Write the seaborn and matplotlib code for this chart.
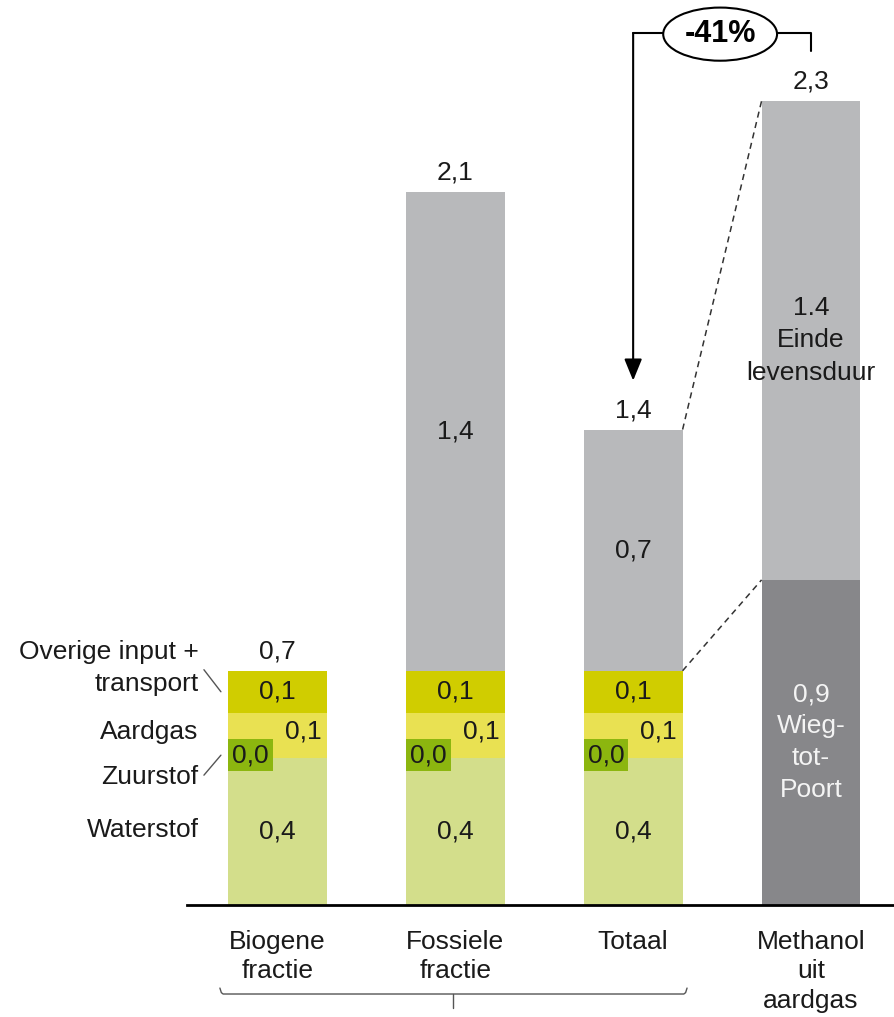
import numpy as np
import pandas as pd
import matplotlib
matplotlib.use("Agg")
import matplotlib.pyplot as plt
from matplotlib.patches import Ellipse
import seaborn as sns

# ---------------- data ----------------
categories = ["Biogene\nfractie", "Fossiele\nfractie", "Totaal", "Methanol\nuit\naardgas"]
waterstof = [0.42, 0.42, 0.42, 0.0]
zuurstof = [0.0, 0.0, 0.0, 0.0]
aardgas = [0.13, 0.13, 0.13, 0.0]
overige = [0.12, 0.12, 0.12, 0.0]
wieg_tot_poort = [0.0, 0.0, 0.0, 0.93]
einde_levensduur = [0.0, 1.37, 0.69, 1.37]

total_labels = ["0,7", "2,1", "1,4", "2,3"]
waterstof_labels = ["0,4", "0,4", "0,4", ""]
zuurstof_labels = ["0,0", "0,0", "0,0", ""]
aardgas_labels = ["0,1", "0,1", "0,1", ""]
overige_labels = ["0,1", "0,1", "0,1", ""]
wieg_labels = ["", "", "", "0,9\nWieg-\ntot-\nPoort"]
einde_labels = ["", "1,4", "0,7", "1.4\nEinde\nlevensduur"]
reduction_label = "-41%"
left_labels = ["Overige input +\ntransport", "Aardgas", "Zuurstof", "Waterstof"]

# ---------------- style ----------------
sns.set_theme(style="white")
plt.rcParams["font.family"] = ["Liberation Sans", "DejaVu Sans"]
TXT = "#1a1a1a"
FS = 19

c_wat = "#d3de8b"
c_zuur = "#8cb60f"
c_aard = "#e9e152"
c_over = "#d0cd00"
c_wieg = "#87878a"
c_einde = "#b8b9bb"

df = pd.DataFrame({"cat": categories})
df["wat"] = np.array(waterstof)
df["zu"] = df["wat"] + np.array(zuurstof)
df["aard"] = df["zu"] + np.array(aardgas)
df["ov"] = df["aard"] + np.array(overige)
df["wieg"] = df["ov"] + np.array(wieg_tot_poort)
df["einde"] = df["wieg"] + np.array(einde_levensduur)

W, H = 895, 1017
fig = plt.figure(figsize=(W / 100, H / 100), dpi=100)
ax = fig.add_axes([187 / W, (H - 905) / H, (W - 187) / W, 905 / H])

bw = 0.556
for col, colr in [("einde", c_einde), ("wieg", c_wieg), ("ov", c_over),
                  ("aard", c_aard), ("zu", c_zuur), ("wat", c_wat)]:
    sns.barplot(data=df, x="cat", y=col, order=categories, color=colr,
                width=bw, saturation=1, linewidth=0, errorbar=None, ax=ax)

ax.set_xlim(-0.508, 3.472)
ax.set_ylim(0, 905 / 349.6)
ax.set_xlabel("")
ax.set_ylabel("")
ax.set_yticks([])
ax.set_xticks(range(len(categories)))
ax.set_xticklabels(categories, fontsize=FS, color=TXT, linespacing=1.28)
ax.tick_params(axis="x", length=0, pad=18)
sns.despine(ax=ax, left=True)
ax.spines["bottom"].set_color("black")
ax.spines["bottom"].set_linewidth(2)

# ---------------- labels ----------------
for i in range(len(categories)):
    tot = df["einde"][i]
    ax.annotate(total_labels[i], (i, tot), xytext=(0, 14), textcoords="offset points",
                ha="center", va="center", fontsize=FS, color=TXT)
    if einde_labels[i]:
        ax.text(i, (df["wieg"][i] + df["einde"][i]) / 2, einde_labels[i], ha="center",
                va="center", fontsize=FS, color=TXT, linespacing=1.45)
    if wieg_labels[i]:
        ax.text(i, (df["ov"][i] + df["wieg"][i]) / 2, wieg_labels[i], ha="center",
                va="center", fontsize=FS, color="#f4f4f4", linespacing=1.42)
    if overige_labels[i]:
        ax.text(i, (df["aard"][i] + df["ov"][i]) / 2, overige_labels[i], ha="center",
                va="center", fontsize=FS, color=TXT)
    if aardgas_labels[i]:
        ax.annotate(aardgas_labels[i], (i + bw / 2, (df["zu"][i] + df["aard"][i]) / 2),
                    xytext=(-4, 3), textcoords="offset points", ha="right", va="center",
                    fontsize=FS, color=TXT)
    if waterstof_labels[i]:
        ax.text(i, df["wat"][i] / 2, waterstof_labels[i], ha="center", va="center",
                fontsize=FS, color=TXT)
    if zuurstof_labels[i]:
        ax.annotate(zuurstof_labels[i], (i - bw / 2, df["zu"][i]),
                    xytext=(3.0, 2), textcoords="offset points", ha="left", va="center",
                    fontsize=FS, color=TXT,
                    bbox=dict(boxstyle="square,pad=0.15", fc=c_zuur, ec="none"))

# left-hand legend labels for the first bar
x0 = 0 - bw / 2
ly = [df["ov"][0] + 0.008, (df["zu"][0] + df["aard"][0]) / 2 + 0.01,
      df["zu"][0] - 0.055, df["wat"][0] / 2 + 0.005]
for lab, yv in zip(left_labels, ly):
    ax.annotate(lab, (x0, yv), xytext=(-21, 0), textcoords="offset points", ha="right",
                va="center", fontsize=FS, color=TXT, linespacing=1.4,
                annotation_clip=False)
px = 1 / 178.0
py = 1 / 349.6
ax.plot([x0 - 24 * px, x0 - 7 * px], [df["ov"][0] + 0.003, df["ov"][0] - 21 * py],
        color="#555555", lw=1, clip_on=False)
ax.plot([x0 - 24 * px, x0 - 7 * px], [df["zu"][0] - 17 * py, df["zu"][0] + 3 * py],
        color="#555555", lw=1, clip_on=False)

# dashed connectors between Totaal and Methanol
ax.plot([2 + bw / 2, 3 - bw / 2], [df["einde"][2], df["einde"][3]], ls=(0, (4, 3)),
        color="#333333", lw=1.1)
ax.plot([2 + bw / 2, 3 - bw / 2], [df["ov"][2], df["wieg"][3]], ls=(0, (4, 3)),
        color="#333333", lw=1.1)

# reduction bracket with arrow and ellipse
ytop = 2.494
ax.annotate("", xy=(2, df["einde"][2] + 0.14), xytext=(2, ytop),
            arrowprops=dict(arrowstyle="-|>,head_length=1.1,head_width=0.45",
                            color="black", lw=1.5, shrinkA=0, shrinkB=0))
ex, ew, eh = 2.489, 0.64, 0.152
ax.plot([2, ex - ew / 2], [ytop, ytop], color="black", lw=1.5)
ax.plot([ex + ew / 2, 3, 3], [ytop, ytop, ytop - 0.05], color="black", lw=1.5)
ax.add_patch(Ellipse((ex, ytop - 0.003), ew, eh, fc="white", ec="black", lw=1.5, zorder=5))
ax.text(ex, ytop - 0.003, reduction_label, ha="center", va="center", fontsize=22,
        fontweight="bold", color="black", zorder=6)

# curly bracket under first three bars
yb = -0.2546
ax.plot([-0.323, -0.315, -0.305, 2.285, 2.295, 2.303],
        [yb + 0.017, yb + 0.004, yb, yb, yb + 0.004, yb + 0.017],
        color="#555555", lw=1, clip_on=False)
ax.plot([0.988, 0.988], [yb, yb - 0.04], color="#555555", lw=1, clip_on=False)

fig.savefig("out.png", dpi=100)
